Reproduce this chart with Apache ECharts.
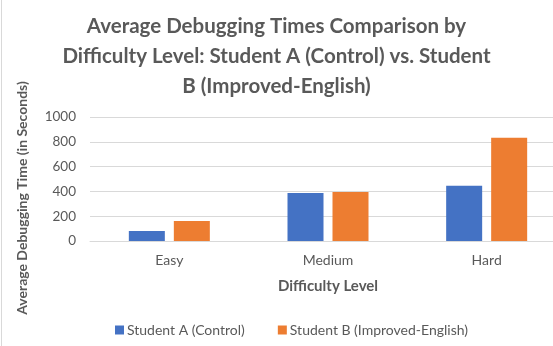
<!DOCTYPE html>
<html><head><meta charset="utf-8">
<script src="https://cdn.jsdelivr.net/npm/echarts@6/dist/echarts.min.js"></script>
<style>html,body{margin:0;padding:0;background:#fff;overflow:hidden;width:553px;height:346px}#c{width:580px;height:346px}</style>
</head><body><div id="c"></div>
<script>
var categories = ['Easy', 'Medium', 'Hard'];
var studentA = [81, 388, 445];
var studentB = [162, 396, 833];
var seriesNames = ['Student A (Control)', 'Student B (Improved-English)'];
var titleText = 'Average Debugging Times Comparison by\nDifficulty Level: Student A (Control) vs. Student\nB (Improved-English)';
var yTitle = 'Average Debugging Time (in Seconds)';
var xTitle = 'Difficulty Level';

var font = 'Lato, "Open Sans", sans-serif';
var txt = '#595959';
var chart = echarts.init(document.getElementById('c'), null, {renderer: 'canvas'});
chart.setOption({
  animation: false,
  backgroundColor: '#fff',
  grid: {left: 90, right: 14, top: 117, bottom: 105, containLabel: false},
  legend: {
    bottom: 4, left: 110, itemWidth: 9, itemHeight: 9, itemGap: 33, icon: 'rect',
    textStyle: {fontFamily: font, fontSize: 14, color: txt, padding: [0,0,0,-2]},
    data: seriesNames
  },
  xAxis: {
    type: 'category', data: categories,
    name: xTitle, nameLocation: 'middle', nameGap: 38,
    nameTextStyle: {fontFamily: font, fontSize: 15, fontWeight: 'bold', color: txt},
    axisLine: {lineStyle: {color: '#d9d9d9'}}, axisTick: {show: false},
    axisLabel: {fontFamily: font, fontSize: 14, color: txt, margin: 12}
  },
  yAxis: {
    type: 'value', min: 0, max: 1000, interval: 200,
    axisLine: {show: false}, axisTick: {show: false},
    splitLine: {lineStyle: {color: '#d9d9d9'}},
    axisLabel: {fontFamily: font, fontSize: 13.5, color: txt, margin: 14, formatter: function (v) { return String(v); }}
  },
  graphic: [
    {type: 'text', x: 276.5, y: 11,
     style: {text: titleText, fontFamily: font, fontSize: 20.5, fontWeight: 'bold', fill: txt, lineHeight: 30, align: 'center', verticalAlign: 'top'}},
    {type: 'text', x: 22, y: 198, rotation: Math.PI/2,
     style: {text: yTitle, fontFamily: font, fontSize: 14, fontWeight: 'bold', fill: txt, align: 'center', verticalAlign: 'middle'}},
    {type: 'line', shape: {x1: 1.5, y1: 0, x2: 1.5, y2: 346}, style: {stroke: '#d9d9d9', lineWidth: 1}}
  ],
  series: [
    {name: seriesNames[0], type: 'bar', data: studentA, barWidth: 36, barGap: '25%', itemStyle: {color: '#4472c4'}},
    {name: seriesNames[1], type: 'bar', data: studentB, barWidth: 36, itemStyle: {color: '#ed7d31'}}
  ]
});
</script></body></html>
